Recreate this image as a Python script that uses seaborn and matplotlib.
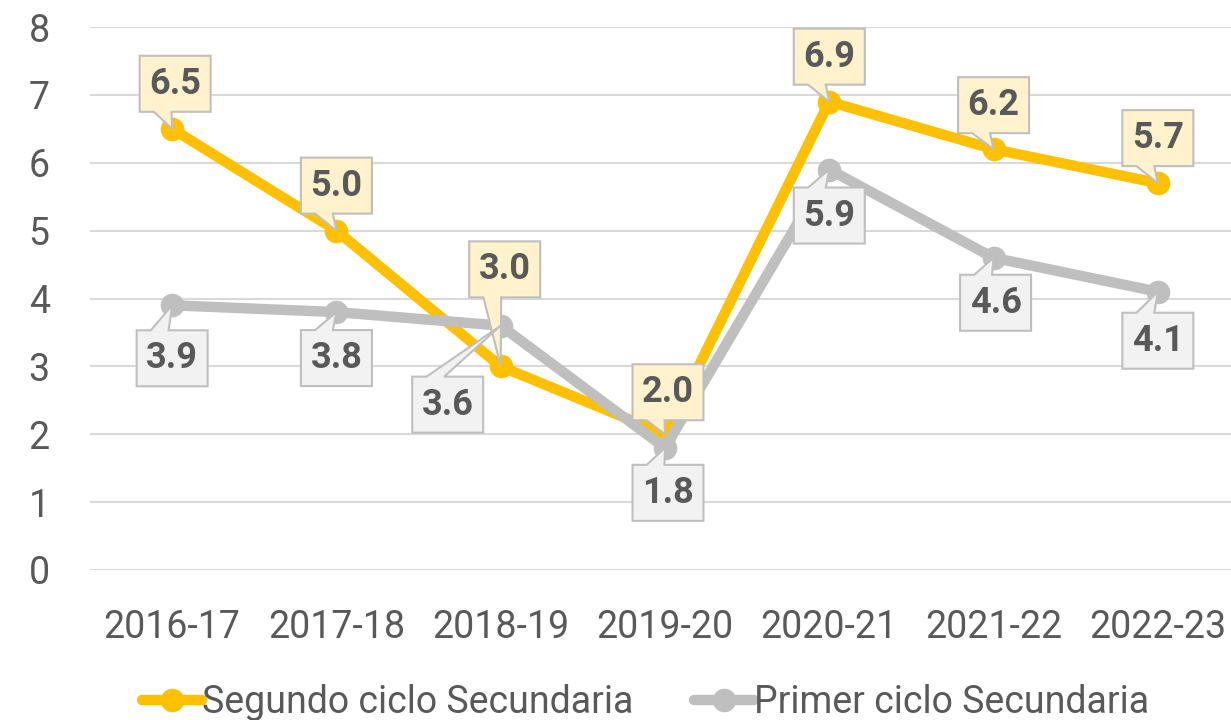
import pandas as pd
import numpy as np
import matplotlib.pyplot as plt
import matplotlib.transforms as mtransforms
from matplotlib.patches import Polygon
import seaborn as sns

sns.set_style("white")
plt.rcParams["font.family"] = ["Roboto", "DejaVu Sans"]

cursos = ["2016-17", "2017-18", "2018-19", "2019-20", "2020-21", "2021-22", "2022-23"]
segundo = [6.5, 5.0, 3.0, 2.0, 6.9, 6.2, 5.7]
primero = [3.9, 3.8, 3.6, 1.8, 5.9, 4.6, 4.1]
series = ["Segundo ciclo Secundaria", "Primer ciclo Secundaria"]

ORANGE = "#FFC000"
GRAY = "#BFBFBF"
TXT = "#595959"

df = pd.DataFrame({
    "curso": cursos * 2,
    "valor": segundo + primero,
    "serie": [series[0]] * len(cursos) + [series[1]] * len(cursos),
})

fig = plt.figure(figsize=(12.31, 7.2), dpi=100)
ax = fig.add_axes([90 / 1231, 150 / 720, 1150 / 1231, 543 / 720])

sns.lineplot(data=df, x="curso", y="valor", hue="serie", hue_order=series,
             palette=[ORANGE, GRAY], marker="o", markersize=17, markeredgewidth=0,
             linewidth=7.5, sort=False, ax=ax)

ax.set_ylim(0, 8)
ax.set_xlim(-0.5, 6.5)
ax.set_yticks(range(0, 9))
ax.yaxis.grid(True, color="#D9D9D9", linewidth=1.5)
ax.set_axisbelow(True)
for s in ax.spines.values():
    s.set_visible(False)
ax.tick_params(axis="both", length=0, labelsize=27, colors=TXT)
ax.tick_params(axis="x", pad=28)
ax.tick_params(axis="y", pad=29)
ax.set_xlabel("")
ax.set_ylabel("")

# callout box centre relative to the point, in pixels (x right, y up)
off_seg = [(3, 45), (0, 45), (4, 97), (3, 42), (0, 45), (0, 44), (0, 45)]
off_pri = [(0, -53), (0, -46), (-53, -79), (3, -45), (0, -46), (2, -45), (0, -49)]

ident = mtransforms.IdentityTransform()
BW, BH = 71, 56


def callout(x, y, dx, dy, fc):
    px, py = ax.transData.transform((x, y))
    cx, cy = px + dx, py + dy
    L, R = cx - BW / 2, cx + BW / 2
    B, T = cy - BH / 2, cy + BH / 2
    a, b = L + 0.2 * BW, L + 0.45 * BW
    if dy > 0:  # box above the point, pointer from bottom edge
        verts = [(L, T), (R, T), (R, B), (b, B), (px, py), (a, B), (L, B)]
    else:  # box below, pointer from top edge
        verts = [(L, B), (R, B), (R, T), (b, T), (px, py), (a, T), (L, T)]
    ax.add_patch(Polygon(verts, closed=True, fc=fc, ec=GRAY, lw=1.5,
                         transform=ident, clip_on=False, zorder=5))
    ax.text(cx, cy, f"{y:.1f}", transform=ident, ha="center", va="center",
            fontsize=26, fontweight="bold", color=TXT, zorder=6)


for i, v in enumerate(segundo):
    callout(i, v, *off_seg[i], "#FFF2CC")
for i, v in enumerate(primero):
    callout(i, v, *off_pri[i], "#F2F2F2")

leg = ax.legend(loc="lower center", bbox_to_anchor=(0.483, -0.34), ncol=2, frameon=False,
                fontsize=27, handlelength=1.6, handletextpad=0.0, columnspacing=1.6,
                labelcolor=TXT)

fig.savefig("out.png", dpi=100)
